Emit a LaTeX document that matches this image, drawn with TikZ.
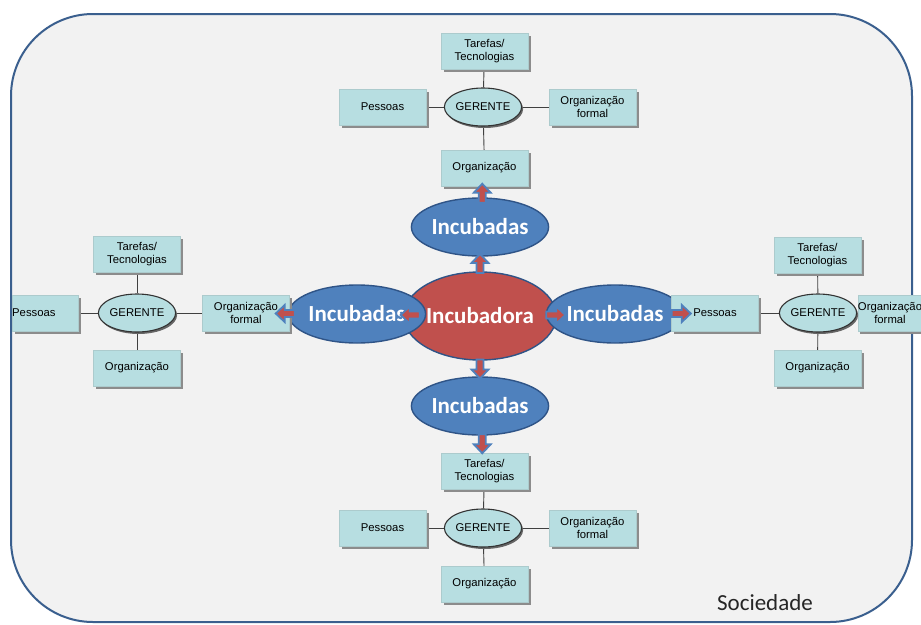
\documentclass[tikz,border=0pt]{standalone}
\usepackage{fontspec}
\setmainfont{Liberation Sans}
\newfontfamily\calib{Carlito}
\usetikzlibrary{shapes.geometric,shadows,calc}
\definecolor{bordblue}{HTML}{3A5F8E}
\definecolor{bgray}{HTML}{F2F2F2}
\definecolor{teal}{HTML}{B7DEE1}
\definecolor{incblue}{HTML}{4F81BD}
\definecolor{incedge}{HTML}{2F5487}
\definecolor{incred}{HTML}{C0504D}
\pgfdeclarelayer{back}
\pgfdeclarelayer{lines}
\pgfsetlayers{back,lines,main}
\tikzset{
  box/.style={rectangle, fill=teal, draw=teal!80!gray, line width=0.4pt,
    minimum width=87pt, minimum height=36pt, inner sep=0pt, align=center,
    font=\fontsize{11.3}{12.5}\selectfont,
    drop shadow={shadow xshift=2.5pt, shadow yshift=-2.5pt, fill=black!45, opacity=1}},
  ger/.style={ellipse, fill=teal, draw=black!80, line width=1.1pt,
    minimum width=72pt, minimum height=38pt, inner sep=0pt,
    font=\fontsize{11.3}{12.5}\selectfont,
    drop shadow={shadow xshift=1.5pt, shadow yshift=-2pt, fill=black!60, opacity=1}},
  link/.style={draw=black!75, line width=0.9pt},
  incub/.style={ellipse, fill=incblue, draw=incedge, line width=1.4pt,
    minimum width=128pt, minimum height=58pt, inner sep=0pt,
    text=white, font=\calib\bfseries\fontsize{23}{26}\selectfont},
  incr/.style={ellipse, fill=incred, draw=incedge, line width=1.4pt,
    minimum width=124pt, minimum height=88pt, inner sep=0pt,
    text=white, font=\calib\bfseries\fontsize{23}{26}\selectfont},
  pics/fatarrow/.style={code={
    \draw[fill=incred, draw=incblue, line width=1.8pt, line join=miter]
      (-9,-3.5) -- (1,-3.5) -- (1,-8.5) -- (10,0) -- (1,8.5) -- (1,3.5) -- (-9,3.5) -- cycle;
  }},
}
\begin{document}
\begin{tikzpicture}[x=1pt,y=-1pt]
\useasboundingbox (0,0) rectangle (921,624);
\begin{pgfonlayer}{back}
  \draw[fill=bgray, draw=bordblue, line width=2pt, rounded corners=82pt]
    (11,14) rectangle (912,622);
\end{pgfonlayer}

% center
\node[incr] (inc) at (480,316) {Incubadora};
\node[incub] (itop) at (480,227) {Incubadas};
\node[incub] (ibot) at (480,406) {Incubadas};
\node[incub, minimum width=124pt] (ileft) at (357,314) {Incubadas};
\node[incub, minimum width=126pt] (iright) at (615,314) {Incubadas};

% top cluster
\node[box] (tT) at (484.5,51) {Tarefas/\\Tecnologias};
\node[box] (tP) at (382.5,107) {Pessoas};
\node[box] (tF) at (592.5,107) {Organização\\formal};
\node[box] (tO) at (484.5,168) {Organização};
\node[ger] (tG) at (483,107) {GERENTE};

% bottom cluster
\node[box] (bT) at (484.5,471) {Tarefas/\\Tecnologias};
\node[box] (bP) at (382.5,528) {Pessoas};
\node[box] (bF) at (592.5,528) {Organização\\formal};
\node[box] (bO) at (484.5,584) {Organização};
\node[ger] (bG) at (483,528) {GERENTE};

% left cluster
\node[box] (lT) at (137,254) {Tarefas/\\Tecnologias};
\node[box, minimum width=66pt, text width=66pt, align=left, anchor=west] (lP) at (12,313) {Pessoas};
\node[box] (lF) at (246,313) {Organização\\formal};
\node[box] (lO) at (137,368) {Organização};
\node[ger] (lG) at (137,313) {GERENTE};

% right cluster
\node[box] (rT) at (817.5,255) {Tarefas/\\Tecnologias};
\node[box] (rP) at (715,313) {Pessoas};
\node[box, minimum width=64pt] (rF) at (890,313) {Organização\\formal};
\node[box] (rO) at (817.5,368) {Organização};
\node[ger] (rG) at (818,313) {GERENTE};

\begin{pgfonlayer}{lines}
  \foreach \c in {t,b,l,r}{
    \draw[link] (\c G) -- (\c T);
    \draw[link] (\c G) -- (\c P);
    \draw[link] (\c G) -- (\c F);
    \draw[link] (\c G) -- (\c O);
  }
\end{pgfonlayer}

% arrows
\pic[rotate=90] at ($(inc.north)!0.5!(itop.south)$) {fatarrow};
\pic[rotate=90] at ($(itop.north)!0.5!(tO.south)+(0,2)$) {fatarrow};
\pic[rotate=270] at ($(inc.south)!0.5!(ibot.north)$) {fatarrow};
\pic[rotate=270] at ($(ibot.south)!0.5!(bT.north)+(0,-1)$) {fatarrow};
\pic[rotate=180] at ($(inc.west)!0.5!(ileft.east)+(-4,0)$) {fatarrow};
\pic[rotate=180] at ($(ileft.west)!0.5!(lF.east)+(-3,0)$) {fatarrow};
\pic[rotate=0] at ($(inc.east)!0.5!(iright.west)+(4,0)$) {fatarrow};
\pic[rotate=0] at ($(iright.east)!0.5!(rP.west)+(3,0)$) {fatarrow};

\node[font=\calib\fontsize{23}{26}\selectfont, text=black!85] (soc) at (765,603) {Sociedade};
\end{tikzpicture}
\end{document}
